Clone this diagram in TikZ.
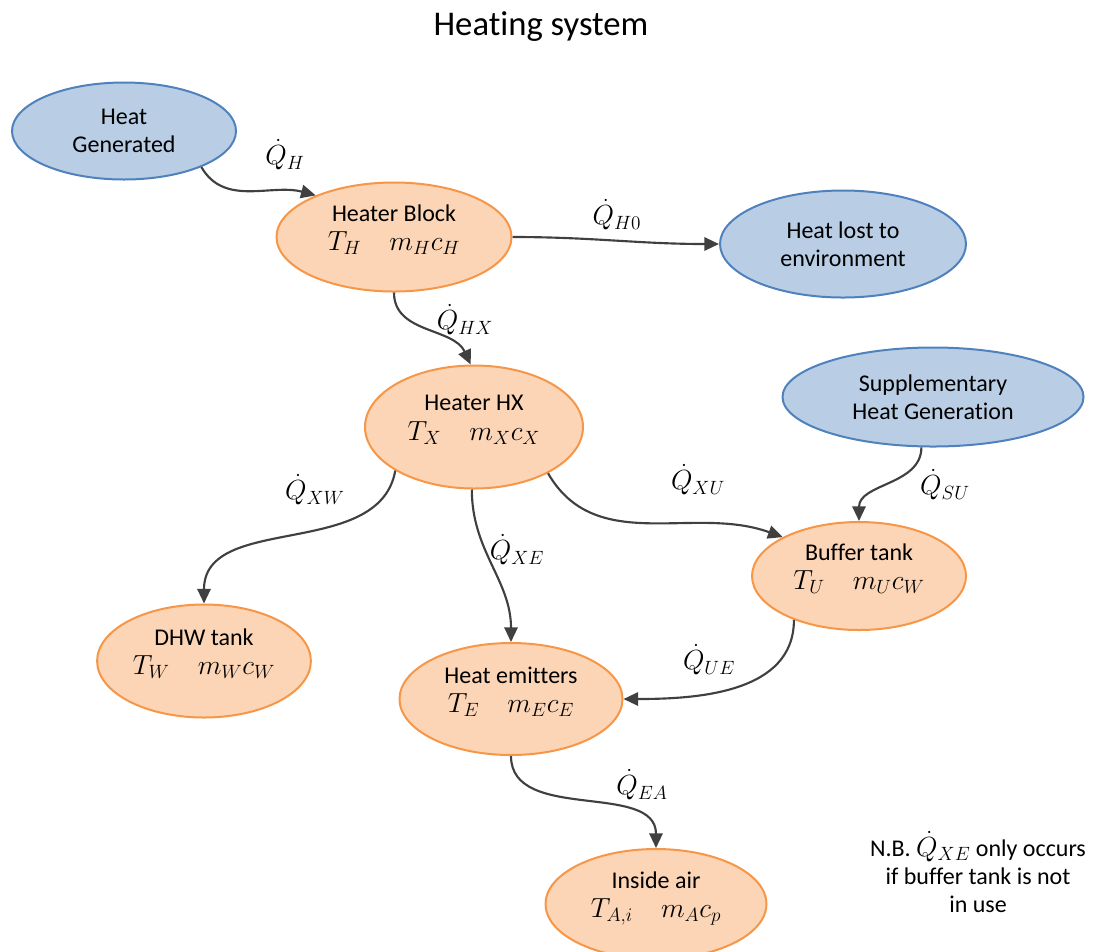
\documentclass[tikz,border=0pt]{standalone}
\usepackage{fontspec}
\setmainfont[Ligatures=NoCommon]{Carlito}
\usetikzlibrary{shapes.geometric,arrows.meta}
\definecolor{heatblue}{RGB}{185,205,229}
\definecolor{heatblueline}{RGB}{79,129,189}
\definecolor{heatorange}{RGB}{251,213,181}
\definecolor{heatorangeline}{RGB}{247,150,70}
\definecolor{flowgray}{RGB}{64,64,64}
\newcommand{\mq}[1]{{\fontsize{21}{24}\selectfont$#1$}}
\begin{document}
\begin{tikzpicture}[x=.75pt,y=.75pt,
  src/.style={ellipse,draw=heatblueline,fill=heatblue,line width=1.5pt,align=center,font=\fontsize{18}{21}\selectfont},
  store/.style={ellipse,draw=heatorangeline,fill=heatorange,line width=1.5pt,align=center,font=\fontsize{18}{22}\selectfont,text depth=14pt},
  flow/.style={draw=flowgray,line width=1.6pt,-{Triangle[length=11pt,width=10pt]}},
  lbl/.style={font=\fontsize{18}{21}\selectfont}]
\useasboundingbox (0,0) rectangle (1109,-951);
\node (title) at (541,-27) {\fontsize{26}{30}\selectfont Heating system};
% sources and sinks
\node[src,minimum width=168pt,minimum height=72.75pt] (hg) at (124,-131) {Heat\\Generated};
\node[src,minimum width=184.5pt,minimum height=80.25pt] (lost) at (843,-244) {Heat lost to\\environment};
\node[src,minimum width=225.75pt,minimum height=74.25pt] (supp) at (933,-397) {Supplementary\\Heat Generation};
% thermal masses
\node[store,minimum width=176.25pt,minimum height=81.75pt] (hb) at (394,-237) {Heater Block\\\mq{T_H\quad m_H c_H}};
\node[store,minimum width=163.5pt,minimum height=92.25pt] (hx) at (474,-427) {Heater HX\\\mq{T_X\quad m_X c_X}};
\node[store,minimum width=160.5pt,minimum height=81pt] (buf) at (859,-576) {Buffer tank\\\mq{T_U\quad m_U c_W}};
\node[store,minimum width=159.75pt,minimum height=84.75pt] (dhw) at (204,-661) {DHW tank\\\mq{T_W\quad m_W c_W}};
\node[store,minimum width=167.25pt,minimum height=84pt] (emit) at (511,-699) {Heat emitters\\\mq{T_E\quad m_E c_E}};
\node[store,minimum width=165.75pt,minimum height=82.5pt] (air) at (656,-904) {Inside air\\\mq{T_{A,i}\quad m_A c_p}};
% heat flows
\draw[flow] (hg.-25) to[out=-60,in=165] (hb.152);
\draw[flow] (hb.0) to[out=0,in=180] (lost.180);
\draw[flow] (hb.-90) to[out=-90,in=115] (hx.93);
\draw[flow] (hx.-151) to[out=-100,in=90] (dhw.90);
\draw[flow] (hx.-92) to[out=-90,in=90] (emit.90);
\draw[flow] (hx.-32) to[out=-60,in=160] (buf.153);
\draw[flow] (supp.-103) to[out=-90,in=90] (buf.90);
\draw[flow] (buf.-146) to[out=-90,in=0] (emit.0);
\draw[flow] (emit.-90) to[out=-90,in=90] (air.90);
% flow labels
\node[lbl] (qh) at (285,-155) {\mq{\dot{Q}_H}};
\node[lbl] (qh0) at (617,-215) {\mq{\dot{Q}_{H0}}};
\node[lbl] (qhx) at (465,-320) {\mq{\dot{Q}_{HX}}};
\node[lbl] (qxw) at (315,-490) {\mq{\dot{Q}_{XW}}};
\node[lbl] (qxe) at (517,-550) {\mq{\dot{Q}_{XE}}};
\node[lbl] (qxu) at (698,-480) {\mq{\dot{Q}_{XU}}};
\node[lbl] (qsu) at (945,-485) {\mq{\dot{Q}_{SU}}};
\node[lbl] (que) at (709,-660) {\mq{\dot{Q}_{UE}}};
\node[lbl] (qea) at (642,-785) {\mq{\dot{Q}_{EA}}};
\node[lbl,align=center] (nb) at (978,-872) {N.B. \mq{\dot{Q}_{XE}} only occurs\\if buffer tank is not\\in use};
\end{tikzpicture}
\end{document}
